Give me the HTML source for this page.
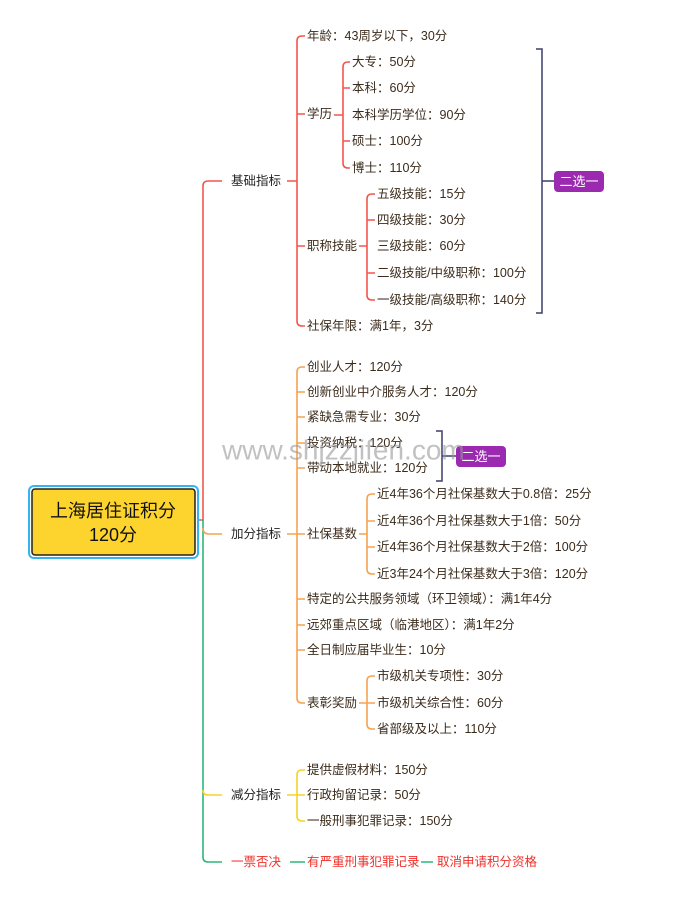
<!DOCTYPE html>
<html><head><meta charset="utf-8"><style>
html,body{margin:0;padding:0;background:#fff;}
svg{display:block;font-family:"Liberation Sans","Noto Sans CJK SC",sans-serif;}
text{font-size:12.5px;fill:#3b2b1b;dominant-baseline:central;}
.r{fill:none;stroke:#f5554b;stroke-width:1.6;}
.o{fill:none;stroke:#f7a24e;stroke-width:1.6;}
.y{fill:none;stroke:#f5d327;stroke-width:1.6;}
.g{fill:none;stroke:#2bb77e;stroke-width:1.6;}
.red{fill:#f0302a;}
</style></head><body>
<svg width="692" height="900" viewBox="0 0 692 900">
<rect width="692" height="900" fill="#fff"/>
<!-- trunk -->
<path class="r" d="M197,520 H203 V186 Q203,181 208,181 H222"/>
<path class="g" d="M203,520 V857 Q203,862 208,862 H222"/>
<path class="o" d="M203,528 Q203,534 209,534 H222"/>
<path class="y" d="M203,790 Q203,795 208,795 H222"/>
<!-- root -->
<rect x="29" y="486" width="169" height="72" rx="5" fill="none" stroke="#35b5f0" stroke-width="2"/>
<rect x="32" y="489" width="163" height="66" rx="3" fill="#fdd42e" stroke="#222" stroke-width="1.5"/>
<text x="113" y="511" text-anchor="middle" style="font-size:18px;fill:#111">上海居住证积分</text>
<text x="113" y="535" text-anchor="middle" style="font-size:18px;fill:#111">120分</text>
<!-- level 1 -->
<text x="231" y="181" style="fill:#222">基础指标</text>
<text x="231" y="534" style="fill:#222">加分指标</text>
<text x="231" y="795" style="fill:#222">减分指标</text>
<text x="231" y="862" class="red">一票否决</text>
<!-- basic -->
<path class="r" d="M287,181 H297 M305,36 H302 Q297,36 297,41 V321 Q297,326 302,326 H305 M297,114 H305 M297,246 H305"/>
<text x="307" y="36">年龄：43周岁以下，30分</text>
<text x="307" y="114">学历</text>
<text x="307" y="246">职称技能</text>
<text x="307" y="326">社保年限：满1年，3分</text>
<path class="r" d="M334,115 H343 M350,62 H348 Q343,62 343,67 V163 Q343,168 348,168 H350 M343,88 H350 M343,141 H350"/>
<text x="352" y="62">大专：50分</text>
<text x="352" y="88">本科：60分</text>
<text x="352" y="115">本科学历学位：90分</text>
<text x="352" y="141">硕士：100分</text>
<text x="352" y="168">博士：110分</text>
<path class="r" d="M359,246 H367 M375,194 H372 Q367,194 367,199 V295 Q367,300 372,300 H375 M367,220 H375 M367,273 H375"/>
<text x="377" y="194">五级技能：15分</text>
<text x="377" y="220">四级技能：30分</text>
<text x="377" y="246">三级技能：60分</text>
<text x="377" y="273">二级技能/中级职称：100分</text>
<text x="377" y="300">一级技能/高级职称：140分</text>
<path d="M536,49 H542 V313 H536 M542,181 H554" fill="none" stroke="#3d3d6b" stroke-width="1.5"/>
<rect x="554" y="171" width="50" height="21" rx="4" fill="#9c2ab0"/>
<text x="579" y="181.5" text-anchor="middle" style="fill:#fff;font-size:13px">二选一</text>
<!-- plus -->
<path class="o" d="M287,534 H297 M305,367 H302 Q297,367 297,372 V698 Q297,703 302,703 H305 M297,392 H305 M297,417 H305 M297,443 H305 M297,468 H305 M297,534 H305 M297,599 H305 M297,625 H305 M297,650 H305"/>
<text x="307" y="367">创业人才：120分</text>
<text x="307" y="392">创新创业中介服务人才：120分</text>
<text x="307" y="417">紧缺急需专业：30分</text>
<text x="307" y="443">投资纳税：120分</text>
<text x="307" y="468">带动本地就业：120分</text>
<text x="307" y="534">社保基数</text>
<text x="307" y="599">特定的公共服务领域（环卫领域）：满1年4分</text>
<text x="307" y="625">远郊重点区域（临港地区）：满1年2分</text>
<text x="307" y="650">全日制应届毕业生：10分</text>
<text x="307" y="703">表彰奖励</text>
<path class="o" d="M359,534 H367 M375,494 H372 Q367,494 367,499 V569 Q367,574 372,574 H375 M367,521 H375 M367,547 H375"/>
<text x="377" y="494">近4年36个月社保基数大于0.8倍：25分</text>
<text x="377" y="521">近4年36个月社保基数大于1倍：50分</text>
<text x="377" y="547">近4年36个月社保基数大于2倍：100分</text>
<text x="377" y="574">近3年24个月社保基数大于3倍：120分</text>
<path class="o" d="M359,703 H367 M375,676 H372 Q367,676 367,681 V724 Q367,729 372,729 H375 M367,703 H375"/>
<text x="377" y="676">市级机关专项性：30分</text>
<text x="377" y="703">市级机关综合性：60分</text>
<text x="377" y="729">省部级及以上：110分</text>
<path d="M436,431 H442 V481 H436 M442,456 H456" fill="none" stroke="#3d3d6b" stroke-width="1.5"/>
<rect x="456" y="446" width="50" height="21" rx="4" fill="#9c2ab0"/>
<text x="481" y="456.5" text-anchor="middle" style="fill:#fff;font-size:13px">二选一</text>
<text x="222" y="450" style="font-size:28px;fill:#999;opacity:0.6">www.shjzzjifen.com</text>
<!-- minus -->
<path class="y" d="M287,795 H297 M305,770 H302 Q297,770 297,775 V816 Q297,821 302,821 H305 M297,795 H305"/>
<text x="307" y="770">提供虚假材料：150分</text>
<text x="307" y="795">行政拘留记录：50分</text>
<text x="307" y="821">一般刑事犯罪记录：150分</text>
<!-- veto -->
<path class="g" d="M290,862 H305 M421,862 H433"/>
<text x="307" y="862" class="red">有严重刑事犯罪记录</text>
<text x="437" y="862" class="red">取消申请积分资格</text>
</svg>
</body></html>
